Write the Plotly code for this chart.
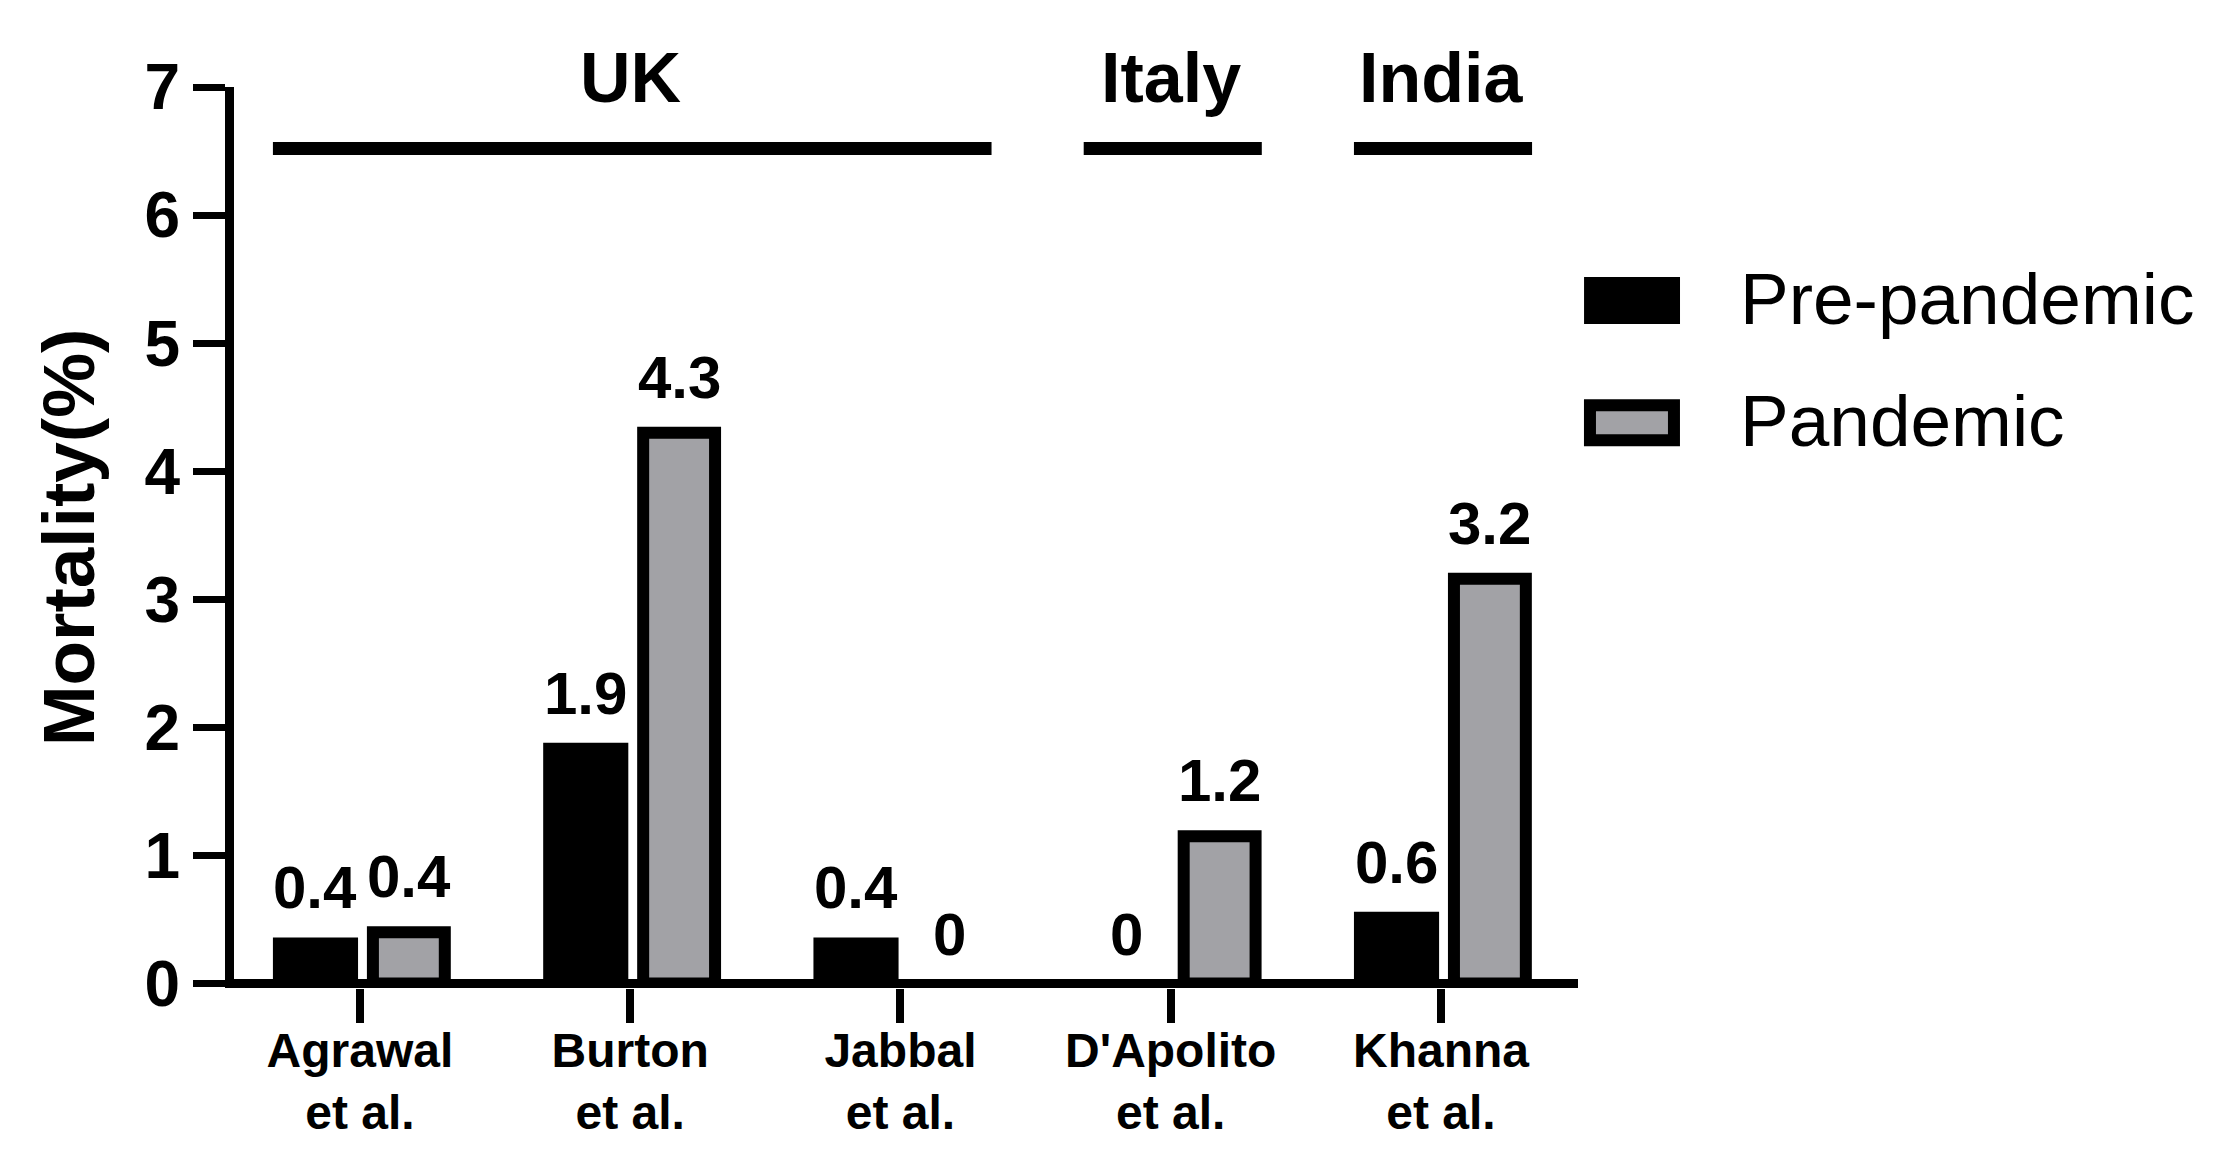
import plotly.graph_objects as go

# --- Data ---
studies = ["Agrawal<br>et al.", "Burton<br>et al.", "Jabbal<br>et al.",
           "D'Apolito<br>et al.", "Khanna<br>et al."]
pre_pandemic = [0.36, 1.88, 0.36, 0, 0.56]
pandemic = [0.40, 4.30, 0, 1.15, 3.16]
pre_labels = ["0.4", "1.9", "0.4", "0", "0.6"]
pan_labels = ["0.4", "4.3", "0", "1.2", "3.2"]

# country groups: label, first and last study index
countries = ["UK", "Italy", "India"]
country_first = [0, 3, 4]
country_last = [2, 3, 4]

FONT = "Liberation Sans, Arial, sans-serif"
GREY = "#a2a2a6"
Y_RANGE = [-0.035, 7]
xs = list(range(len(studies)))

# bar geometry (category units)
PRE_OFFSET, PRE_WIDTH = -0.322, 0.315
PAN_OFFSET, PAN_WIDTH = 0.048, 0.266
OUTLINE = 12

fig = go.Figure()

fig.add_trace(go.Bar(
    x=xs, y=pre_pandemic, name="Pre-pandemic",
    offset=PRE_OFFSET, width=PRE_WIDTH,
    marker=dict(color="black", line=dict(width=0)),
))
pan_line = [OUTLINE if v > 0 else 0 for v in pandemic]
fig.add_trace(go.Bar(
    x=xs, y=pandemic, name="Pandemic",
    offset=PAN_OFFSET, width=PAN_WIDTH,
    marker=dict(color=GREY, line=dict(color="black", width=pan_line)),
))

# value labels above bars
label_font = dict(family=FONT, size=60, color="black", weight="bold")
for i in xs:
    fig.add_annotation(
        x=i + PRE_OFFSET + PRE_WIDTH / 2, y=pre_pandemic[i], text=pre_labels[i],
        showarrow=False, yanchor="bottom", yshift=14, font=label_font,
    )
    fig.add_annotation(
        x=i + PAN_OFFSET + PAN_WIDTH / 2, y=pandemic[i], text=pan_labels[i],
        showarrow=False, yanchor="bottom",
        yshift=14 + pan_line[i] / 2, font=label_font,
    )

# country bracket lines + labels
line_y = 6.52
label_y = 7.07
for name, a, b in zip(countries, country_first, country_last):
    fig.add_trace(go.Scatter(
        x=[a + PRE_OFFSET, b + 0.337], y=[line_y, line_y], mode="lines",
        line=dict(color="black", width=13), hoverinfo="skip",
    ))
    fig.add_annotation(
        x=(a + b) / 2, xref="x", yref="paper",
        y=(label_y - Y_RANGE[0]) / (Y_RANGE[1] - Y_RANGE[0]),
        text=name, showarrow=False, yanchor="middle",
        font=dict(family=FONT, size=70, color="black", weight="bold"),
    )

# legend drawn by hand (large rectangular swatches)
fig.add_shape(type="rect", xref="paper", yref="paper",
              x0=1.0045, x1=1.0759, y0=0.7369, y1=0.7890,
              fillcolor="black", line=dict(width=0))
fig.add_shape(type="rect", xref="paper", yref="paper",
              x0=1.0089, x1=1.0714, y0=0.6080, y1=0.6469,
              fillcolor=GREY, line=dict(color="black", width=OUTLINE))
for label, yy in [("Pre-pandemic", 0.7657), ("Pandemic", 0.6302)]:
    fig.add_annotation(
        x=1.119, y=yy, xref="paper", yref="paper", text=label,
        showarrow=False, xanchor="left", yanchor="middle",
        font=dict(family=FONT, size=73, color="black"),
    )

fig.update_layout(
    width=2216, height=1168,
    margin=dict(l=226, r=646, t=79, b=188),
    barmode="overlay", showlegend=False,
    plot_bgcolor="white", paper_bgcolor="white",
    font=dict(family=FONT, color="black"),
)
fig.update_xaxes(
    range=[-0.466, 4.507], tickvals=xs, ticktext=studies,
    showline=False, ticks="outside", ticklen=34, tickwidth=8,
    tickcolor="black", ticklabelstandoff=-14,
    tickfont=dict(family=FONT, size=48, color="black", weight="bold"),
    showgrid=False, zeroline=False,
)
fig.update_yaxes(
    range=Y_RANGE, tickvals=list(range(8)),
    showline=True, linecolor="black", linewidth=9,
    ticks="outside", ticklen=32, tickwidth=7, tickcolor="black",
    tickfont=dict(family=FONT, size=64, color="black", weight="bold"),
    title=dict(text="Mortality(%)", standoff=30,
               font=dict(family=FONT, size=73, color="black", weight="bold")),
    showgrid=False, zeroline=True, zerolinecolor="black", zerolinewidth=9,
)

fig.write_html("out.html")
